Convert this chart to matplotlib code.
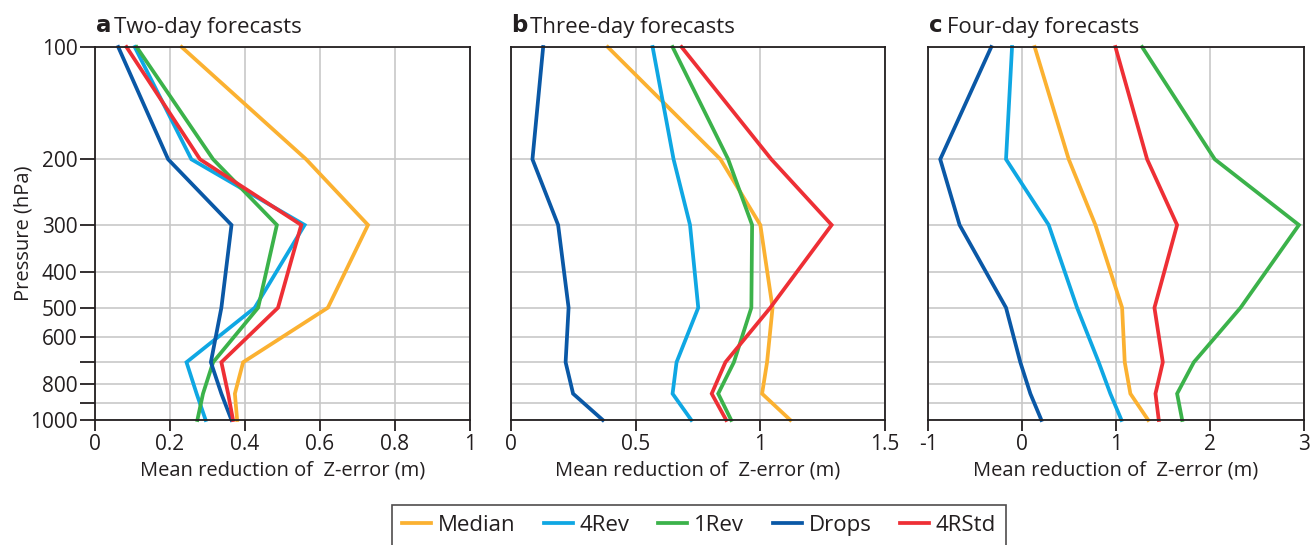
import numpy as np
from matplotlib import pyplot as plt

plt.rcParams['font.family'] = ['Open Sans', 'DejaVu Sans']

# pressure levels (hPa) at which the profiles are given
levels = [100, 200, 300, 500, 700, 850, 1000]

names = ['Median', '4Rev', '1Rev', 'Drops', '4RStd']
colors = ['#FBB131', '#0FA7E3', '#3BB24A', '#0A58A6', '#EE2F35']

# mean reduction of Z-error (m), one list per series and panel
two_day = {
    'Median': [0.231, 0.563, 0.728, 0.621, 0.395, 0.373, 0.379],
    '4Rev': [0.106, 0.257, 0.559, 0.426, 0.244, 0.271, 0.295],
    '1Rev': [0.111, 0.315, 0.485, 0.435, 0.315, 0.288, 0.273],
    'Drops': [0.062, 0.195, 0.364, 0.337, 0.309, 0.337, 0.364],
    '4RStd': [0.084, 0.280, 0.550, 0.488, 0.337, 0.355, 0.368],
}
three_day = {
    'Median': [0.388, 0.840, 1.000, 1.049, 1.027, 1.007, 1.120],
    '4Rev': [0.568, 0.652, 0.718, 0.751, 0.664, 0.648, 0.723],
    '1Rev': [0.648, 0.871, 0.967, 0.964, 0.894, 0.831, 0.883],
    'Drops': [0.129, 0.086, 0.189, 0.231, 0.219, 0.249, 0.368],
    '4RStd': [0.684, 1.044, 1.286, 1.040, 0.860, 0.805, 0.863],
}
four_day = {
    'Median': [0.135, 0.497, 0.781, 1.065, 1.093, 1.153, 1.342],
    '4Rev': [-0.106, -0.170, 0.284, 0.586, 0.816, 0.940, 1.058],
    '1Rev': [1.278, 2.051, 2.946, 2.325, 1.828, 1.650, 1.704],
    'Drops': [-0.327, -0.870, -0.664, -0.170, -0.018, 0.089, 0.206],
    '4RStd': [0.994, 1.331, 1.650, 1.409, 1.498, 1.420, 1.455],
}

panels = [('a', 'Two-day forecasts', two_day, (0, 1), [0, 0.2, 0.4, 0.6, 0.8, 1], ['0', '0.2', '0.4', '0.6', '0.8', '1']),
          ('b', 'Three-day forecasts', three_day, (0, 1.5), [0, 0.5, 1, 1.5], ['0', '0.5', '1', '1.5']),
          ('c', 'Four-day forecasts', four_day, (-1, 3), [-1, 0, 1, 2, 3], ['-1', '0', '1', '2', '3'])]
lefts = [95, 511, 928]
widths = [375, 374, 376]

grid_p = [100, 200, 300, 400, 500, 600, 700, 800, 900, 1000]
label_p = ['100', '200', '300', '400', '500', '600', '', '800', '', '1000']

ink = '#231f20'
W, H = 1313, 545
fig = plt.figure(figsize=(W / 100, H / 100), dpi=100)

for i, (letter, title, data, xlim, xt, xtl) in enumerate(panels):
    ax = fig.add_axes([lefts[i] / W, 1 - 420 / H, widths[i] / W, 373 / H])
    for name, c in zip(names, colors):
        ax.plot(data[name], levels, color=c, lw=2.7, label=name, solid_joinstyle='miter', clip_on=False)
    ax.set_yscale('log')
    ax.set_ylim(1000, 100)
    ax.set_xlim(*xlim)
    ax.set_yticks(grid_p)
    ax.yaxis.set_minor_locator(plt.NullLocator())
    ax.set_xticks(xt)
    ax.set_xticklabels(xtl, fontsize=15)
    ax.grid(True, color='#c8c8c8', lw=1.2)
    ax.set_axisbelow(True)
    for s in ax.spines.values():
        s.set_color(ink)
        s.set_linewidth(1.3)
    ax.tick_params(axis='x', length=8, width=1.3, color=ink, pad=2, labelcolor=ink)
    if i == 0:
        ax.set_yticklabels(label_p, fontsize=15, color=ink)
        ax.tick_params(axis='y', length=10.5, width=1.3, color=ink, pad=2)
        ax.set_ylabel('Pressure (hPa)', fontsize=14.5, color=ink)
        ax.yaxis.set_label_coords(-0.165, 0.5)
    else:
        ax.set_yticklabels([])
        ax.tick_params(axis='y', length=0)
    ax.set_xlabel('Mean reduction of  Z-error (m)', fontsize=14.5, color=ink, labelpad=4)
    ax.text(0, 1.025, r'$\bf{%s}$' % letter, transform=ax.transAxes, fontsize=16.5,
            ha='left', va='bottom', color=ink)
    ax.text(0.05, 1.025, title, transform=ax.transAxes, fontsize=16,
            ha='left', va='bottom', color=ink)
    if i == 0:
        handles, labs = ax.get_legend_handles_labels()

leg = fig.legend(handles, labs, loc='upper center', bbox_to_anchor=(699 / W, 1 - 505 / H),
                 ncol=5, frameon=True, fancybox=False, fontsize=16, handlelength=1.3,
                 handletextpad=0.3, columnspacing=1.3, borderpad=0.45, borderaxespad=0)
leg.get_frame().set_edgecolor(ink)
leg.get_frame().set_linewidth(1.2)
for t in leg.get_texts():
    t.set_color(ink)

fig.savefig('out.png', dpi=100)
